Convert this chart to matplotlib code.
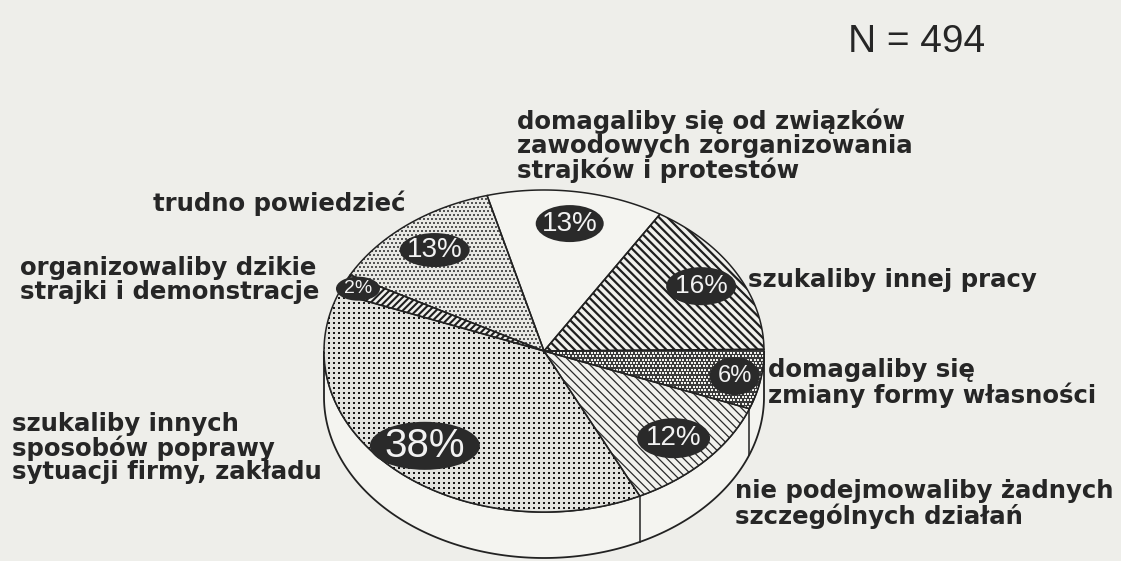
import numpy as np
import matplotlib
matplotlib.use("Agg")
import matplotlib.pyplot as plt
from matplotlib.patches import Polygon, Ellipse

# ---------------- data ----------------
categories = [
    "domagaliby się od związków\nzawodowych zorganizowania\nstrajków i protestów",
    "szukaliby innej pracy",
    "domagaliby się\nzmiany formy własności",
    "nie podejmowaliby żadnych\nszczególnych działań",
    "szukaliby innych\nsposobów poprawy\nsytuacji firmy, zakładu",
    "organizowaliby dzikie\nstrajki i demonstracje",
    "trudno powiedzieć",
]
values = [13, 16, 6, 12, 38, 2, 13]
n_label = "N = 494"

# ---------------- style / layout ----------------
W, H = 1121, 561
bg = "#eeeeea"
cx, cy, a, b, depth = 544, 351, 220, 161, 46
start_deg = 105.0

# texture per slice: ("hatch", pattern, color, lw) or ("dots", spacing, size, color, stagger) or None
textures = [
    None,
    ("hatch", "\\\\\\\\", "#1e1e1e", 1.6),
    ("dots", 3.4, 1.6, "#f2f2ee", True),
    ("hatch", "\\\\\\\\", "#2a2a2a", 0.9),
    ("dots", 5.0, 2.7, "#151515", False),
    ("hatch", "/////", "#1e1e1e", 1.5),
    ("dots", 4.0, 1.6, "#555555", True),
]
face_colors = ["#f4f4f0", "#f0f0ec", "#3a3a3a", "#f2f2ee", "#e2e2de", "#f0f0ec", "#e8e8e4"]

badge_r = [0.80, 0.82, 0.88, 0.80, 0.80, 0.93, 0.80]
badge_fs = [20, 19, 17, 20, 29, 14, 20]
badge_w = [68, 70, 50, 73, 110, 44, 70]
badge_h = [37, 38, 38, 40, 48, 24, 34]

label_pos = [(517, 146), (748, 280), (768, 383), (735, 504), (12, 448), (20, 280), (153, 203)]
label_fs = 17.6

fig = plt.figure(figsize=(W / 100, H / 100), dpi=100, facecolor=bg)
ax = fig.add_axes([0, 0, 1, 1])
ax.set_xlim(0, W)
ax.set_ylim(H, 0)
ax.axis("off")
ax.set_facecolor(bg)


def rim(t_deg, dy=0.0):
    t = np.radians(t_deg)
    return np.column_stack([cx + a * np.cos(t), cy - b * np.sin(t) + dy])


# side wall (front half)
ts = np.linspace(180, 360, 200)
side = np.vstack([rim(ts), rim(ts[::-1], depth)])
ax.add_patch(Polygon(side, closed=True, facecolor="#f4f4f0", edgecolor="#222222", lw=1.3, zorder=1))

# slices
total = float(sum(values))
bounds = [start_deg]
for v in values:
    bounds.append(bounds[-1] - 360.0 * v / total)

for i, v in enumerate(values):
    t1, t2 = bounds[i], bounds[i + 1]
    tt = np.linspace(t1, t2, 120)
    pts = np.vstack([[cx, cy], rim(tt)])
    base = Polygon(pts, closed=True, facecolor=face_colors[i], edgecolor="none", lw=0, zorder=2)
    ax.add_patch(base)
    tex = textures[i]
    if tex is not None and tex[0] == "hatch":
        _, pat, col, lw = tex
        plt.rcParams["hatch.linewidth"] = lw
        hp = Polygon(pts, closed=True, facecolor="none", edgecolor=col, hatch=pat, lw=0, zorder=3)
        try:
            hp.set_hatch_linewidth(lw)
        except Exception:
            pass
        ax.add_patch(hp)
    elif tex is not None and tex[0] == "dots":
        _, sp, sz, col, stag = tex
        xs = np.arange(pts[:, 0].min() - sp, pts[:, 0].max() + sp, sp)
        ys = np.arange(pts[:, 1].min() - sp, pts[:, 1].max() + sp, sp)
        gx, gy = np.meshgrid(xs, ys)
        if stag:
            gx = gx + (np.arange(len(ys))[:, None] % 2) * sp / 2
        sc = ax.scatter(gx.ravel(), gy.ravel(), s=(sz * 0.72) ** 2, marker="s",
                        color=col, linewidths=0, zorder=3)
        sc.set_clip_path(base)
    ax.add_patch(Polygon(pts, closed=True, fill=False, edgecolor="#222222", lw=1.1, zorder=4))

# vertical seams on the visible side wall
for t in bounds:
    tm = ((t + 180) % 360) - 180
    if np.sin(np.radians(tm)) < 0:
        p = rim([tm])[0]
        ax.plot([p[0], p[0]], [p[1], p[1] + depth], color="#222222", lw=1.1, zorder=4)

# percentage badges
for i, v in enumerate(values):
    tm = np.radians((bounds[i] + bounds[i + 1]) / 2)
    bx = cx + a * badge_r[i] * np.cos(tm)
    by = cy - b * badge_r[i] * np.sin(tm)
    ax.add_patch(Ellipse((bx, by), badge_w[i], badge_h[i], facecolor="#2a2a2a",
                         edgecolor="none", zorder=5))
    ax.text(bx, by, f"{v}%", ha="center", va="center", color="#f2f2f2",
            fontsize=badge_fs[i], family="Liberation Sans", zorder=6)

# category labels
for i, lab in enumerate(categories):
    x, y = label_pos[i]
    ax.text(x, y, lab, ha="left", va="center", fontsize=label_fs, fontweight="bold",
            family="DejaVu Sans", color="#262626", linespacing=0.98, zorder=7)

ax.text(985, 42, n_label, ha="right", va="center", fontsize=28,
        family="Liberation Sans", color="#262626")

fig.savefig("out.png", dpi=100, facecolor=bg)
